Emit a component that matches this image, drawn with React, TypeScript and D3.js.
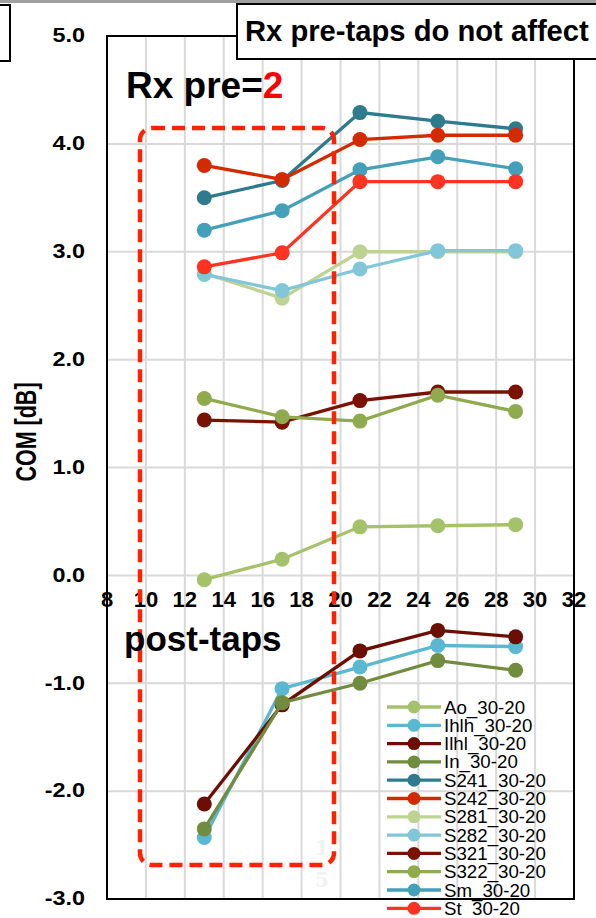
import React from "react";
import * as d3 from "d3";

const xValues = [13, 17, 21, 25, 29];
const seriesNames = [
  "Ao_30-20", "Ihlh_30-20", "Ilhl_30-20", "In_30-20", "S241_30-20", "S242_30-20",
  "S281_30-20", "S282_30-20", "S321_30-20", "S322_30-20", "Sm_30-20", "St_30-20",
];
const seriesColors = [
  "#a5c26a", "#5ab8d2", "#6b0e04", "#718c3e", "#2f7b8e", "#d42a00",
  "#bed391", "#82c6da", "#7a1204", "#8fab4e", "#43a0b8", "#ff3322",
];
const aoValues = [-0.04, 0.15, 0.45, 0.46, 0.47];
const ihlhValues = [-2.43, -1.05, -0.85, -0.65, -0.66];
const ilhlValues = [-2.12, -1.2, -0.7, -0.51, -0.57];
const inValues = [-2.35, -1.18, -1.0, -0.79, -0.88];
const s241Values = [3.5, 3.66, 4.29, 4.21, 4.14];
const s242Values = [3.8, 3.67, 4.04, 4.08, 4.08];
const s281Values = [2.8, 2.57, 3.0, 3.0, 3.0];
const s282Values = [2.79, 2.64, 2.84, 3.01, 3.01];
const s321Values = [1.44, 1.42, 1.62, 1.7, 1.7];
const s322Values = [1.64, 1.47, 1.43, 1.67, 1.52];
const smValues = [3.2, 3.38, 3.76, 3.88, 3.77];
const stValues = [2.86, 2.99, 3.65, 3.65, 3.65];
const allValues = [
  aoValues, ihlhValues, ilhlValues, inValues, s241Values, s242Values,
  s281Values, s282Values, s321Values, s322Values, smValues, stValues,
];
const xTicks = [8, 10, 12, 14, 16, 18, 20, 22, 24, 26, 28, 30, 32];
const yTicks = [-3, -2, -1, 0, 1, 2, 3, 4, 5];
const yTickLabels = ["-3.0", "-2.0", "-1.0", "0.0", "1.0", "2.0", "3.0", "4.0", "5.0"];

const FONT = "Arial, 'Liberation Sans', Helvetica, sans-serif";

export default function App() {
  const x = d3.scaleLinear().domain([8, 32]).range([107, 574]);
  const y = d3.scaleLinear().domain([-3, 5]).range([899, 36]);
  const line = d3
    .line<[number, number]>()
    .x((d) => x(d[0]))
    .y((d) => y(d[1]));

  const legendY0 = 707;
  const legendDy = 18.3;

  return (
    <svg
      width={596}
      height={918}
      style={{ position: "absolute", left: 0, top: 0, background: "#fff" }}
      fontFamily={FONT}
    >
      <rect x={0} y={0} width={596} height={918} fill="#fff" />
      {/* top gray band */}
      <rect x={0} y={0} width={596} height={3} fill="#a0a0a0" />
      {/* partial box at left */}
      <rect x={-10} y={5} width={20} height={56} fill="#fff" stroke="#000" strokeWidth={2} />

      {/* gridlines */}
      {xTicks.slice(1, -1).map((t) => (
        <line key={"gx" + t} x1={x(t)} x2={x(t)} y1={y(5)} y2={y(-3)} stroke="#d9d9d9" strokeWidth={2} />
      ))}
      {yTicks.slice(1, -1).map((t) => (
        <line key={"gy" + t} x1={x(8)} x2={x(32)} y1={y(t)} y2={y(t)} stroke="#d9d9d9" strokeWidth={2} />
      ))}

      {/* frame */}
      <rect x={x(8)} y={y(5)} width={x(32) - x(8)} height={y(-3) - y(5)} fill="none" stroke="#000" strokeWidth={2} />

      {/* y tick labels */}
      {yTicks.map((t, i) => (
        <text
          key={"yl" + t}
          transform={`translate(85,${y(t)}) scale(1.2,1)`}
          textAnchor="end"
          dominantBaseline="central"
          fontSize={19.5}
          fontWeight="bold"
        >
          {yTickLabels[i]}
        </text>
      ))}

      {/* x tick labels */}
      {xTicks.map((t) => (
        <text
          key={"xl" + t}
          x={x(t)}
          y={y(0) + 32}
          textAnchor="middle"
          fontSize={22}
          fontWeight="bold"
        >
          {t}
        </text>
      ))}

      {/* y axis title */}
      <text
        transform={`translate(26,432) rotate(-90) scale(1,1.35)`}
        textAnchor="middle"
        dominantBaseline="central"
        fontSize={21.5}
        fontWeight="bold"
      >
        COM [dB]
      </text>

      {/* series */}
      {allValues.map((vals, i) => {
        const pts: [number, number][] = xValues.map((xv, j) => [xv, vals[j]]);
        return (
          <g key={"s" + i}>
            <path d={line(pts) || ""} fill="none" stroke={seriesColors[i]} strokeWidth={3.3} />
            {pts.map((p, j) => (
              <circle key={j} cx={x(p[0])} cy={y(p[1])} r={7.5} fill={seriesColors[i]} />
            ))}
          </g>
        );
      })}

      {/* red dashed rounded rect */}
      <rect
        x={140}
        y={128}
        width={194}
        height={737}
        rx={12}
        ry={12}
        fill="none"
        stroke="#ff2200"
        strokeWidth={4.5}
        strokeDasharray="13 7"
      />

      {/* faint watermark */}
      <text x={322} y={855} textAnchor="middle" fontSize={20} fontWeight="bold" fontFamily="'DejaVu Serif', serif" fill="#f1f1f1">1</text>
      <text x={322} y={887} textAnchor="middle" fontSize={20} fontWeight="bold" fontFamily="'DejaVu Serif', serif" fill="#f1f1f1">5</text>

      {/* annotations */}
      <text x={126} y={98} fontSize={37} fontWeight="bold">
        Rx pre=<tspan fill="#ff0000">2</tspan>
      </text>
      <text x={124} y={651} fontSize={35} fontWeight="bold">
        post-taps
      </text>

      {/* title box */}
      <rect x={237} y={4} width={380} height={55} fill="#fff" stroke="#000" strokeWidth={2} />
      <text x={245} y={41} fontSize={29.2} fontWeight="bold">
        Rx pre-taps do not affect
      </text>

      {/* legend */}
      {seriesNames.map((name, i) => {
        const ly = legendY0 + i * legendDy;
        return (
          <g key={"lg" + i}>
            <line x1={387} x2={441} y1={ly} y2={ly} stroke={seriesColors[i]} strokeWidth={3.3} />
            <circle cx={414} cy={ly} r={6.5} fill={seriesColors[i]} />
            <text x={444} y={ly} dominantBaseline="central" fontSize={18.7}>
              {name}
            </text>
          </g>
        );
      })}
    </svg>
  );
}
